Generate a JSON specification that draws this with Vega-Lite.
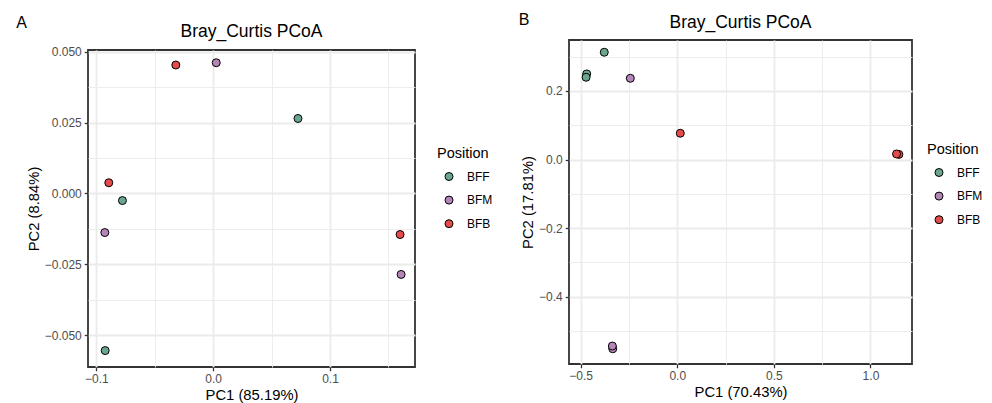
{
  "$schema": "https://vega.github.io/schema/vega-lite/v6.json",
  "padding": {"left": 16, "top": 11, "right": 0, "bottom": 2},
  "background": "white",
  "datasets": {
    "pcoaA": [
      {"Position": "BFF", "PC1": 0.0726, "PC2": 0.0265},
      {"Position": "BFF", "PC1": -0.0777, "PC2": -0.0025},
      {"Position": "BFF", "PC1": -0.0925, "PC2": -0.0555},
      {"Position": "BFM", "PC1": 0.0026, "PC2": 0.0462},
      {"Position": "BFM", "PC1": -0.0928, "PC2": -0.0138},
      {"Position": "BFM", "PC1": 0.1609, "PC2": -0.0286},
      {"Position": "BFB", "PC1": -0.032, "PC2": 0.0454},
      {"Position": "BFB", "PC1": -0.0894, "PC2": 0.0038},
      {"Position": "BFB", "PC1": 0.16, "PC2": -0.0145}
    ],
    "pcoaB": [
      {"Position": "BFF", "PC1": -0.378, "PC2": 0.313},
      {"Position": "BFF", "PC1": -0.469, "PC2": 0.2497},
      {"Position": "BFF", "PC1": -0.472, "PC2": 0.24},
      {"Position": "BFM", "PC1": -0.243, "PC2": 0.237},
      {"Position": "BFM", "PC1": -0.334, "PC2": -0.552},
      {"Position": "BFM", "PC1": -0.336, "PC2": -0.544},
      {"Position": "BFB", "PC1": 0.0155, "PC2": 0.0767},
      {"Position": "BFB", "PC1": 1.147, "PC2": 0.015},
      {"Position": "BFB", "PC1": 1.135, "PC2": 0.0163}
    ],
    "empty": []
  },
  "config": {
    "font": "Liberation Sans",
    "view": {"stroke": "#333333", "strokeWidth": 1.8},
    "axis": {
      "domain": false,
      "labelColor": "#4D4D4D",
      "labelFontSize": 12,
      "labelPadding": 3,
      "tickColor": "#333333",
      "tickSize": 3.75,
      "tickWidth": 1.3,
      "gridColor": "#EBEBEB",
      "titleFontSize": 14.8,
      "titleFontWeight": "normal",
      "titleColor": "black",
      "titlePadding": 3,
      "labelFlush": false,
      "labelOverlap": false
    },
    "legend": {
      "titleFontSize": 14.5,
      "titleFontWeight": "normal",
      "titleColor": "black",
      "titlePadding": 9,
      "labelFontSize": 12,
      "labelColor": "black",
      "symbolSize": 64,
      "symbolStrokeColor": "black",
      "symbolStrokeWidth": 1,
      "symbolType": "circle",
      "rowPadding": 11.6,
      "symbolOffset": 6,
      "labelOffset": 12
    },
    "title": {"fontWeight": "normal", "color": "black"}
  },
  "spacing": 24,
  "resolve": {"scale": {"fill": "independent"}, "legend": {"fill": "independent"}},
  "hconcat": [
    {
      "title": {"text": "A", "anchor": "start", "fontSize": 16, "dx": -9, "offset": -8},
      "spacing": 0,
      "resolve": {"scale": {"fill": "independent"}, "legend": {"fill": "independent"}},
      "vconcat": [
        {
          "width": 327,
          "height": 4.6,
          "view": {"stroke": null},
          "title": {"text": "Bray_Curtis PCoA", "fontSize": 17.5, "frame": "group", "anchor": "middle", "offset": 0},
          "data": {"name": "empty"},
          "mark": {"type": "point"},
          "encoding": {}
        },
        {
          "width": 327,
          "height": 317,
          "data": {"name": "pcoaA"},
          "mark": {"type": "circle", "size": 64, "opacity": 1, "stroke": "black", "strokeWidth": 1},
          "encoding": {
            "x": {
              "field": "PC1", "type": "quantitative",
              "scale": {"domain": [-0.1072, 0.1728], "nice": false, "zero": false},
              "axis": {
                "title": "PC1 (85.19%)",
                "values": [-0.1, -0.05, 0, 0.05, 0.1, 0.15],
                "labelExpr": "abs(datum.value*10 - round(datum.value*10)) < 1e-6 ? format(datum.value, '.1f') : ''",
                "tickOpacity": {"condition": {"test": "abs(datum.value*10 - round(datum.value*10)) < 1e-6", "value": 1}, "value": 0},
                "gridWidth": {"condition": {"test": "abs(datum.value*10 - round(datum.value*10)) < 1e-6", "value": 1.8}, "value": 0.9}
              }
            },
            "y": {
              "field": "PC2", "type": "quantitative",
              "scale": {"domain": [-0.0613, 0.0507], "nice": false, "zero": false},
              "axis": {
                "title": "PC2 (8.84%)",
                "values": [-0.05, -0.0375, -0.025, -0.0125, 0, 0.0125, 0.025, 0.0375, 0.05],
                "labelExpr": "abs(datum.value*40 - round(datum.value*40)) < 1e-6 ? format(datum.value, '.3f') : ''",
                "tickOpacity": {"condition": {"test": "abs(datum.value*40 - round(datum.value*40)) < 1e-6", "value": 1}, "value": 0},
                "gridWidth": {"condition": {"test": "abs(datum.value*40 - round(datum.value*40)) < 1e-6", "value": 1.8}, "value": 0.9}
              }
            },
            "fill": {
              "field": "Position", "type": "nominal",
              "scale": {"domain": ["BFF", "BFM", "BFB"], "range": ["#6AA68E", "#B585B8", "#E64B4B"]},
              "legend": {"orient": "none", "legendX": 349, "legendY": 97, "title": "Position"}
            }
          }
        }
      ]
    },
    {
      "title": {"text": "B", "anchor": "start", "fontSize": 16, "dx": -1, "offset": -14.6},
      "resolve": {"scale": {"fill": "independent"}, "legend": {"fill": "independent"}},
      "vconcat": [
        {
          "width": 343,
          "height": 324,
          "title": {"text": "Bray_Curtis PCoA", "fontSize": 17.5, "frame": "group", "anchor": "middle", "offset": 8.5},
          "data": {"name": "pcoaB"},
          "mark": {"type": "circle", "size": 64, "opacity": 1, "stroke": "black", "strokeWidth": 1},
          "encoding": {
            "x": {
              "field": "PC1", "type": "quantitative",
              "scale": {"domain": [-0.5605, 1.215], "nice": false, "zero": false},
              "axis": {
                "title": "PC1 (70.43%)",
                "values": [-0.5, -0.25, 0, 0.25, 0.5, 0.75, 1],
                "labelExpr": "abs(datum.value*2 - round(datum.value*2)) < 1e-6 ? format(datum.value, '.1f') : ''",
                "tickOpacity": {"condition": {"test": "abs(datum.value*2 - round(datum.value*2)) < 1e-6", "value": 1}, "value": 0},
                "gridWidth": {"condition": {"test": "abs(datum.value*2 - round(datum.value*2)) < 1e-6", "value": 1.8}, "value": 0.9}
              }
            },
            "y": {
              "field": "PC2", "type": "quantitative",
              "scale": {"domain": [-0.5965, 0.3487], "nice": false, "zero": false},
              "axis": {
                "title": "PC2 (17.81%)",
                "values": [-0.5, -0.4, -0.3, -0.2, -0.1, 0, 0.1, 0.2, 0.3],
                "labelExpr": "abs(datum.value*5 - round(datum.value*5)) < 1e-6 ? format(datum.value, '.1f') : ''",
                "tickOpacity": {"condition": {"test": "abs(datum.value*5 - round(datum.value*5)) < 1e-6", "value": 1}, "value": 0},
                "gridWidth": {"condition": {"test": "abs(datum.value*5 - round(datum.value*5)) < 1e-6", "value": 1.8}, "value": 0.9}
              }
            },
            "fill": {
              "field": "Position", "type": "nominal",
              "scale": {"domain": ["BFF", "BFM", "BFB"], "range": ["#6AA68E", "#B585B8", "#E64B4B"]},
              "legend": {"orient": "none", "legendX": 358, "legendY": 103, "title": "Position"}
            }
          }
        }
      ]
    }
  ]
}
